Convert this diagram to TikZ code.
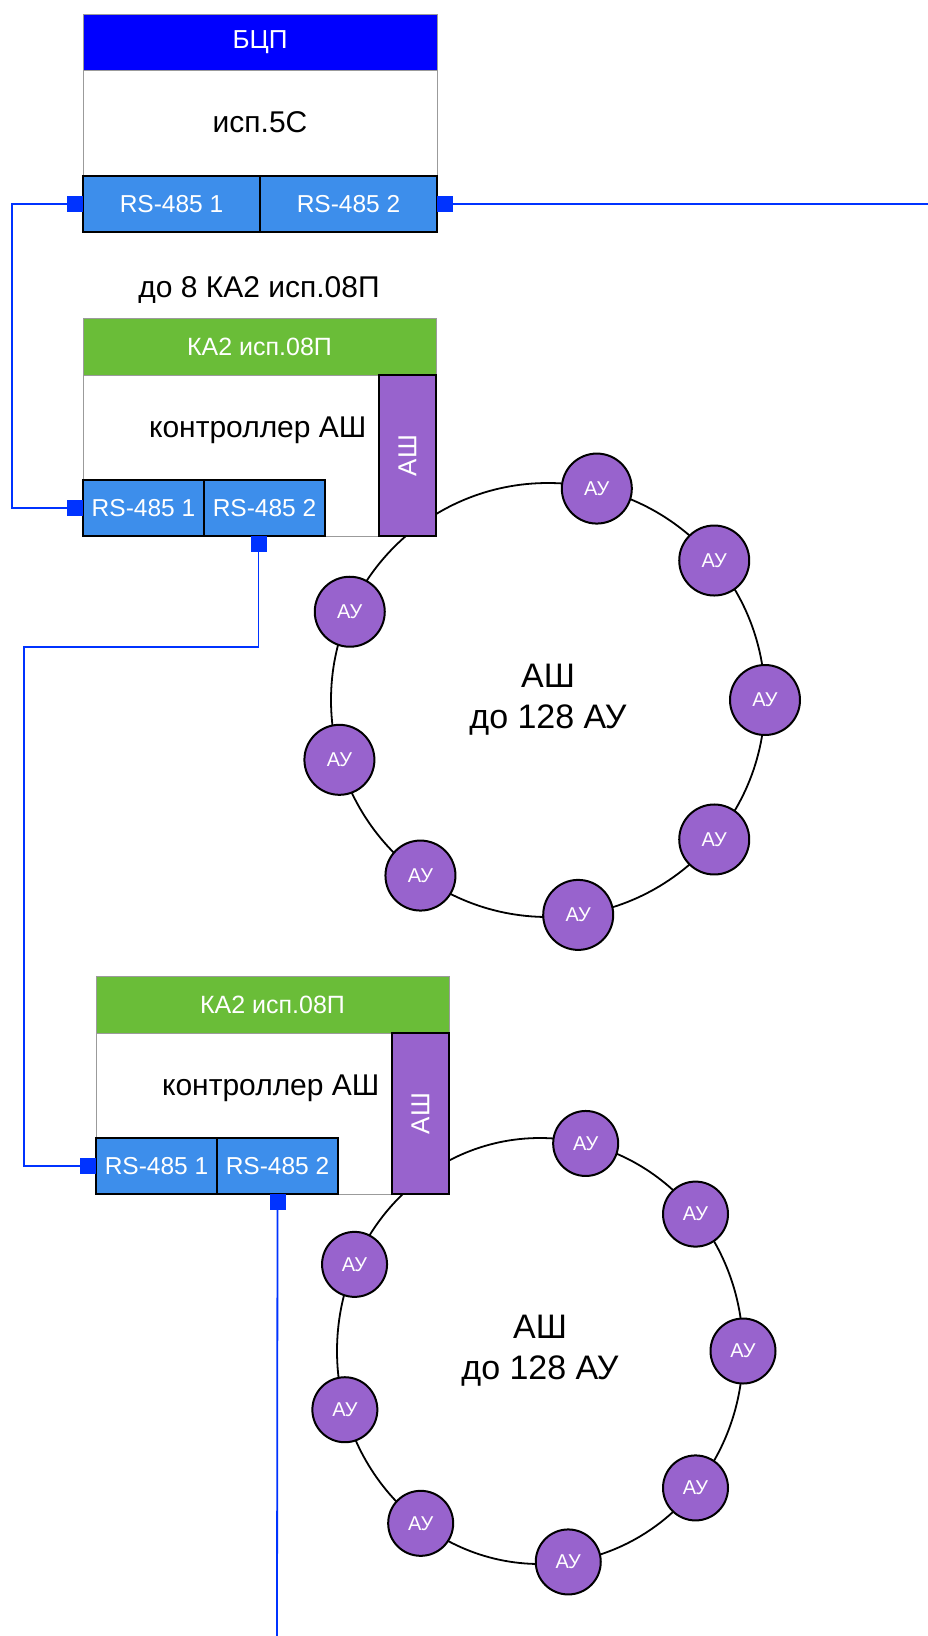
\documentclass[tikz,border=0pt]{standalone}
\usepackage{fontspec}
\setmainfont{Liberation Sans}
\usetikzlibrary{positioning,calc}

\definecolor{cpblue}{RGB}{0,0,255}
\definecolor{portblue}{RGB}{61,142,235}
\definecolor{kagreen}{RGB}{106,189,56}
\definecolor{aupurple}{RGB}{152,99,205}
\definecolor{linkblue}{RGB}{0,51,255}
\definecolor{boxgray}{RGB}{155,155,155}

\tikzset{
	box/.style={draw=boxgray, fill=white, line width=1pt, inner sep=0, outer sep=0, anchor=north west},
	head/.style={fill=#1, draw=boxgray, line width=1pt, text=white, inner sep=0, outer sep=0, anchor=north west, font=\fontsize{25}{29}\selectfont},
	port/.style={fill=portblue, draw=black, line width=2pt, text=white, inner sep=0, outer sep=0, minimum height=56, font=\fontsize{24.5}{28}\selectfont},
	term/.style={fill=linkblue, inner sep=0, outer sep=0, minimum size=16},
	bus/.style={fill=aupurple, draw=black, line width=2pt, inner sep=0, outer sep=0},
	au/.style={circle, fill=aupurple, draw=black, line width=2pt, text=white, inner sep=0, font=\fontsize{20}{23}\selectfont},
	ring/.style={draw=black, line width=1.8pt},
	link/.style={draw=linkblue, line width=1.8pt},
	big/.style={font=\fontsize{30}{35}\selectfont},
}

\begin{document}
\begin{tikzpicture}[x=1pt,y=-1pt]
	\useasboundingbox (0,0) rectangle (928,1636);
	\fill[white] (0,0) rectangle (928,1636);

	% БЦП
	\node[box, minimum width=354, minimum height=218] (bcp) at (83,14) {};
	\node[head=cpblue, minimum width=354, minimum height=56, font=\fontsize{26}{30}\selectfont] (bcph) at (bcp.north west) {БЦП};
	\node[big, anchor=base] (bcpname) at (260,132) {исп.5С};
	\node[port, minimum width=177, anchor=south west] (bcpA) at (bcp.south west) {RS-485 1};
	\node[port, minimum width=177, right=0pt of bcpA] (bcpB) {RS-485 2};
	\node[term, left=0pt of bcpA] (bcpAt) {};
	\node[term, right=0pt of bcpB] (bcpBt) {};

	\node[big, anchor=base] (count) at (259,297) {до 8 КА2 исп.08П};

	% КА2 and its loop of АУ
	\foreach \n/\x/\y/\cx/\cy/\rx/\ry/\d/\dx in {1/83/318/548/700/217/217/70/-6, 2/96/976/540/1351/203/213/65/0}
	{
		\draw[ring] (\cx,\cy) ellipse (\rx pt and \ry pt);
		\node[box, minimum width=353, minimum height=218] (ka-\n) at (\x,\y) {};
		\node[head=kagreen, minimum width=353, minimum height=57] (kah-\n) at (ka-\n.north west) {КА2 исп.08П};
		\node[port, minimum width=121, anchor=south west] (p1-\n) at (ka-\n.south west) {RS-485 1};
		\node[port, minimum width=121, right=0pt of p1-\n] (p2-\n) {RS-485 2};
		\node[term, left=0pt of p1-\n] (t1-\n) {};
		\node[term, anchor=north] (t2-\n) at ([xshift=\dx pt]p2-\n.south) {};
		\node[bus, minimum width=57, minimum height=161, anchor=south east] (bus-\n) at (ka-\n.south east) {};
		\node[text=white, rotate=90, font=\fontsize{26}{30}\selectfont] (busname-\n) at (bus-\n) {АШ};
		\node[big, anchor=base east] (kaname-\n) at ($(bus-\n.west)+(-9,-18)$) {контроллер АШ};
		\node[align=center, font=\fontsize{34}{41}\selectfont] (loop-\n) at (\cx,\cy) {АШ\\до 128 АУ};
		\foreach \a [count=\k] in {-77,-40,0,40,82,126,164,204}
			\node[au, minimum size=\d] (au-\n-\k) at ({\cx+\rx*cos(\a)},{\cy+\ry*sin(\a)}) {АУ};
	}

	% RS-485 lines
	\coordinate (wbend) at (12,204);
	\coordinate (bend) at (24,647);
	\coordinate (eastend) at (928,204);
	\coordinate (southend) at (277,1636);
	\draw[link] (bcpAt.west) -- (wbend) |- (t1-1.west);
	\draw[link] (bcpBt.east) -- (eastend);
	\draw[link] (t2-1.south) |- (bend) |- (t1-2.west);
	\draw[link] (t2-2.south) -- (southend);

\end{tikzpicture}
\end{document}
